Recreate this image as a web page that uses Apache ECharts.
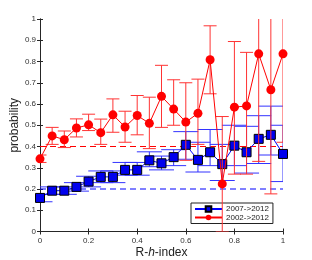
<!DOCTYPE html>
<html><head><meta charset="utf-8">
<script src="https://cdn.jsdelivr.net/npm/echarts@6/dist/echarts.min.js"></script>
<style>html,body{margin:0;padding:0;background:#fff}#c{width:312px;height:260px}</style>
</head><body><div id="c"></div>
<script>
var xVals = [0,0.05,0.1,0.15,0.2,0.25,0.3,0.35,0.4,0.45,0.5,0.55,0.6,0.65,0.7,0.75,0.8,0.85,0.9,0.95,1];
var blueMean = [0.158,0.192,0.192,0.21,0.235,0.257,0.257,0.29,0.29,0.335,0.321,0.35,0.408,0.337,0.373,0.317,0.404,0.373,0.436,0.455,0.365];
var blueLow  = [0.14,0.175,0.175,0.19,0.21,0.23,0.23,0.265,0.265,0.305,0.29,0.31,0.34,0.28,0.31,0.24,0.31,0.275,0.32,0.36,0.235];
var blueHigh = [0.175,0.21,0.21,0.23,0.26,0.285,0.285,0.325,0.325,0.375,0.355,0.385,0.47,0.42,0.48,0.41,0.5,0.495,0.545,0.59,0.5];
var redMean = [0.342,0.45,0.432,0.487,0.502,0.465,0.549,0.492,0.546,0.509,0.636,0.576,0.515,0.556,0.808,0.224,0.585,0.591,0.836,0.667,0.836];
var redLow  = [0.325,0.41,0.395,0.445,0.475,0.41,0.467,0.42,0.455,0.39,0.49,0.5,0.335,0.41,0.648,0,0.27,0.27,0.33,0.177,0.42];
var redHigh = [0.36,0.49,0.473,0.53,0.552,0.529,0.624,0.566,0.64,0.632,0.782,0.714,0.7,0.717,0.968,0.541,0.894,0.843,1.05,1.05,1.05];
var blueBaseline = 0.2;
var redBaseline = 0.4;
var seriesNames = ['2007->2012','2002->2012'];

function zip(a,b){return a.map(function(v,i){return [v,b[i]];});}
function errData(lo,hi){return xVals.map(function(v,i){return [v,lo[i],hi[i]];});}
function errRender(color,cap){
  return function(params,api){
    var x=api.value(0);
    var p1=api.coord([x,api.value(1)]);
    var p2=api.coord([x,api.value(2)]);
    var st={stroke:color,lineWidth:1};
    return {type:'group',children:[
      {type:'line',shape:{x1:p1[0],y1:p1[1],x2:p2[0],y2:p2[1]},style:st},
      {type:'line',shape:{x1:p1[0]-cap/2,y1:p1[1],x2:p1[0]+cap/2,y2:p1[1]},style:st},
      {type:'line',shape:{x1:p2[0]-cap/2,y1:p2[1],x2:p2[0]+cap/2,y2:p2[1]},style:st}
    ]};
  };
}
var chart = echarts.init(document.getElementById('c'));
var axisCommon = {
  min:0,max:1,
  axisLine:{show:true,lineStyle:{color:'#262626',width:1}},
  axisTick:{show:true,inside:true,length:3,lineStyle:{color:'#262626'}},
  splitLine:{show:false}
};
chart.setOption({
  animation:false,
  grid:{left:40,right:29,top:19,bottom:28.5,containLabel:false,outerBoundsMode:'none'},
  xAxis:[
    Object.assign({},axisCommon,{type:'value',position:'bottom',interval:0.2,
      axisLabel:{fontSize:8,color:'#333',margin:5,fontFamily:'Liberation Sans'},
      name:'{a|R-}{b|h}{a|-index}',nameLocation:'middle',nameGap:15,nameMoveOverlap:false,
      nameTextStyle:{rich:{a:{fontSize:12,color:'#222',fontFamily:'Liberation Sans'},b:{fontSize:12,color:'#222',fontStyle:'italic',fontFamily:'Liberation Sans'}}}}),
    Object.assign({},axisCommon,{type:'value',position:'top',interval:0.2,axisLabel:{show:false}})
  ],
  yAxis:[
    Object.assign({},axisCommon,{type:'value',position:'left',interval:0.1,
      axisLabel:{fontSize:8,color:'#333',margin:4,fontFamily:'Liberation Sans'},
      name:'probability',nameLocation:'middle',nameGap:19,nameMoveOverlap:false,
      nameTextStyle:{fontSize:12,color:'#222',fontFamily:'Liberation Sans'}}),
    Object.assign({},axisCommon,{type:'value',position:'right',interval:0.1,axisLabel:{show:false}})
  ],
  legend:{
    data:[seriesNames[0],seriesNames[1]],
    orient:'vertical',left:191,top:203,
    itemWidth:27,itemHeight:7,itemGap:0.5,
    padding:[2,4,2,3],
    borderColor:'#222',borderWidth:1,backgroundColor:'#fff',
    textStyle:{fontSize:8,color:'#222',fontFamily:'Liberation Sans',padding:[0,0,0,-1]}
  },
  series:[
    {type:'line',data:[[0,blueBaseline],[1,blueBaseline]],symbol:'none',silent:true,
      lineStyle:{color:'#0000ff',width:1,type:[6,4]},z:1},
    {type:'line',data:[[0,redBaseline],[1,redBaseline]],symbol:'none',silent:true,
      lineStyle:{color:'#ff0000',width:1,type:[6,4]},z:1},
    {type:'custom',data:errData(blueLow,blueHigh),renderItem:errRender('#3333ff',25),clip:true,z:2},
    {type:'line',name:seriesNames[0],data:zip(xVals,blueMean),symbol:'rect',symbolSize:9,
      lineStyle:{color:'#0000ff',width:1},
      itemStyle:{color:'#0000ee',borderColor:'#000',borderWidth:1},z:3},
    {type:'custom',data:errData(redLow,redHigh),renderItem:errRender('#ff3333',13),clip:true,z:4},
    {type:'line',name:seriesNames[1],data:zip(xVals,redMean),symbol:'circle',symbolSize:9,
      lineStyle:{color:'#ff0000',width:1},
      itemStyle:{color:'#ff0000',borderColor:'#ff0000',borderWidth:0},z:5}
  ]
});
</script></body></html>
